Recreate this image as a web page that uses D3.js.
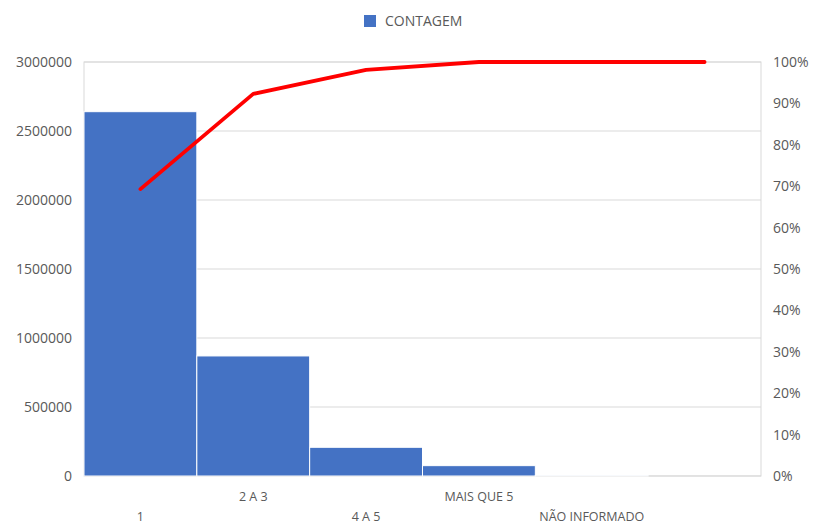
<!DOCTYPE html>
<html>
<head>
<meta charset="utf-8">
<script src="https://cdn.jsdelivr.net/npm/d3@7"></script>
<style>
  body { margin: 0; background: #fff; }
  text { font-family: "Open Sans", sans-serif; fill: #595959; }
</style>
</head>
<body>
<svg id="chart" width="813" height="525"></svg>
<script>
// categorias e valores
const categorias = ['1', '2 A 3', '4 A 5', 'MAIS QUE 5', 'NÃO INFORMADO', ''];
const contagem = [2640000, 870000, 208000, 75000, 3000, 0];
const acumulado = [0.693, 0.923, 0.981, 1.0, 1.0, 1.0];
const ticksEsq = [0, 500000, 1000000, 1500000, 2000000, 2500000, 3000000];
const ticksDir = [0, 0.1, 0.2, 0.3, 0.4, 0.5, 0.6, 0.7, 0.8, 0.9, 1.0];

const margin = { top: 62, right: 52, bottom: 49, left: 84 };
const width = 813 - margin.left - margin.right;
const height = 525 - margin.top - margin.bottom;

const svg = d3.select('#chart');
const g = svg.append('g').attr('transform', `translate(${margin.left},${margin.top})`);

const x = d3.scaleBand()
    .domain(d3.range(categorias.length))
    .range([0, width])
    .paddingInner(0).paddingOuter(0);
const y = d3.scaleLinear().domain([0, 3000000]).range([height, 0]);
const y2 = d3.scaleLinear().domain([0, 1]).range([height, 0]);

// grade
g.selectAll('line.grid')
    .data(ticksEsq)
    .enter()
    .append('line')
    .attr('class', 'grid')
    .attr('x1', 0).attr('x2', width)
    .attr('y1', d => y(d)).attr('y2', d => y(d))
    .style('stroke', '#d9d9d9')
    .style('stroke-width', 1);

g.append('rect')
    .attr('x', 0).attr('y', 0)
    .attr('width', width).attr('height', height)
    .style('fill', 'none')
    .style('stroke', '#d9d9d9');

// barras (sem desenhar as de valor zero)
g.selectAll('rect.bar')
    .data(contagem)
    .enter()
    .filter(d => d > 0)
    .append('rect')
    .attr('class', 'bar')
    .attr('x', (d, i) => x(i))
    .attr('y', d => y(d))
    .attr('width', x.bandwidth())
    .attr('height', d => height - y(d))
    .style('fill', '#4472C4')
    .style('stroke', '#fff')
    .style('stroke-width', 1);

// linha acumulada
const linha = d3.line()
    .x((d, i) => x(i) + x.bandwidth() / 2)
    .y(d => y2(d));
g.append('path')
    .datum(acumulado)
    .attr('d', linha)
    .style('fill', 'none')
    .style('stroke', '#FF0000')
    .style('stroke-width', 3.8)
    .style('stroke-linecap', 'round')
    .style('stroke-linejoin', 'round');

// eixo esquerdo
const eixoEsq = g.append('g')
    .call(d3.axisLeft(y).tickValues(ticksEsq).tickSize(0).tickPadding(12).tickFormat(d3.format('d')));
eixoEsq.select('.domain').remove();
eixoEsq.selectAll('text').style('font-size', '14px').style('fill', '#595959')
    .style('font-family', '"Open Sans", sans-serif');

// eixo direito
const eixoDir = g.append('g')
    .attr('transform', `translate(${width},0)`)
    .call(d3.axisRight(y2).tickValues(ticksDir).tickSize(0).tickPadding(12).tickFormat(d3.format('.0%')));
eixoDir.select('.domain').remove();
eixoDir.selectAll('text').style('font-size', '14px').style('fill', '#595959')
    .style('font-family', '"Open Sans", sans-serif');

// rotulos das categorias, alternados
g.selectAll('text.cat')
    .data(categorias)
    .enter()
    .append('text')
    .attr('class', 'cat')
    .attr('x', (d, i) => x(i) + x.bandwidth() / 2)
    .attr('y', (d, i) => i % 2 === 0 ? height + 41 : height + 21)
    .attr('dy', '0.35em')
    .attr('text-anchor', 'middle')
    .style('font-size', '12.5px')
    .text(d => d);

// legenda
const legenda = svg.append('g').attr('transform', 'translate(364,15)');
legenda.append('rect')
    .attr('width', 12).attr('height', 12)
    .style('fill', '#4472C4');
legenda.append('text')
    .attr('x', 21).attr('y', 11)
    .style('font-size', '14px')
    .text('CONTAGEM');
</script>
</body>
</html>
